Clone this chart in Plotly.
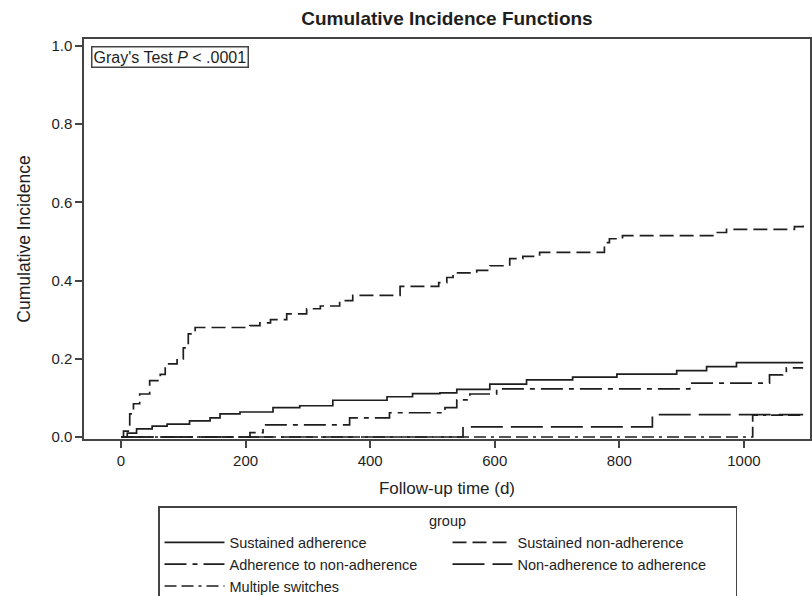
import plotly.graph_objects as go

# ---- data ----
sa_t = [0, 10, 25, 50, 74, 110, 143, 159, 191, 244, 287, 340, 427, 468, 512, 539, 592, 651, 725, 796, 892, 940, 988, 1095]
sa_y = [0, 0.010, 0.021, 0.028, 0.033, 0.041, 0.049, 0.059, 0.064, 0.075, 0.080, 0.094, 0.103, 0.111, 0.113, 0.122, 0.135, 0.146, 0.153, 0.161, 0.170, 0.180, 0.190, 0.190]

sna_t = [0, 4, 14, 20, 30, 46, 63, 71, 90, 100, 108, 119, 207, 223, 240, 266, 298, 320, 351, 372, 448, 510, 523, 533, 571, 592, 624, 645, 672, 776, 784, 805, 950, 972, 1081, 1095]
sna_y = [0, 0.015, 0.059, 0.085, 0.110, 0.144, 0.160, 0.187, 0.200, 0.228, 0.264, 0.280, 0.285, 0.292, 0.300, 0.315, 0.328, 0.335, 0.349, 0.362, 0.385, 0.395, 0.408, 0.420, 0.426, 0.438, 0.456, 0.462, 0.472, 0.497, 0.507, 0.515, 0.523, 0.531, 0.538, 0.541]

ana_t = [0, 207, 228, 367, 431, 520, 539, 560, 603, 913, 1041, 1062, 1068, 1095]
ana_y = [0, 0.011, 0.031, 0.049, 0.062, 0.075, 0.095, 0.110, 0.123, 0.138, 0.159, 0.164, 0.177, 0.177]

nta_t = [0, 549, 853, 1095]
nta_y = [0, 0.026, 0.057, 0.057]

ms_t = [0, 1014, 1095]
ms_y = [0, 0.056, 0.056]

x_ticks = [0, 200, 400, 600, 800, 1000]
y_ticks = [0.0, 0.2, 0.4, 0.6, 0.8, 1.0]
y_tick_labels = ["0.0", "0.2", "0.4", "0.6", "0.8", "1.0"]

series = [
    ("Sustained adherence", sa_t, sa_y, "solid"),
    ("Sustained non-adherence", sna_t, sna_y, "14px,6px"),
    ("Adherence to non-adherence", ana_t, ana_y, "22px,6px,5px,6px"),
    ("Non-adherence to adherence", nta_t, nta_y, "32px,8px"),
    ("Multiple switches", ms_t, ms_y, "12px,5px,12px,5px,3px,5px"),
]

FONT = "Liberation Sans, Arial, sans-serif"
INK = "#1e1e1e"

fig = go.Figure()
for name, t, y, dash in series:
    fig.add_trace(go.Scatter(
        x=t, y=y, mode="lines", name=name,
        line=dict(color=INK, width=1.7, dash=dash, shape="hv"),
    ))

fig.update_layout(
    width=812, height=596,
    margin=dict(l=84, r=2, t=39, b=157, autoexpand=False),
    paper_bgcolor="white", plot_bgcolor="white",
    font=dict(family=FONT, color=INK, size=15),
    title=dict(text="<b>Cumulative Incidence Functions</b>", x=0.5, xref="paper",
               y=1 - 18 / 596, yref="container", yanchor="middle",
               font=dict(size=19, family=FONT, color=INK)),
    showlegend=True,
    legend=dict(
        orientation="h",
        x=(158 - 84) / 726, xanchor="left",
        yref="container", y=1 - 506 / 596, yanchor="top",
        bordercolor="#444", borderwidth=1.5,
        entrywidth=213, entrywidthmode="pixels",
        itemwidth=60,
        font=dict(size=14.5, family=FONT, color=INK),
        title=dict(text="group", side="top center", font=dict(size=14.5, family=FONT, color=INK)),
        tracegroupgap=0,
    ),
    xaxis=dict(
        range=[-59.4, 1106], tickvals=x_ticks, ticks="outside", ticklen=7, tickwidth=1.5,
        tickcolor="#444", showline=True, linecolor="#444", linewidth=1.5, mirror=True,
        showgrid=False, zeroline=False, tickfont=dict(size=15),
        title=dict(text="Follow-up time (d)", font=dict(size=17), standoff=14),
    ),
    yaxis=dict(
        range=[-0.0051, 1.0179], tickvals=y_ticks, ticktext=y_tick_labels, ticks="outside",
        ticklen=7, tickwidth=1.5, tickcolor="#444", showline=True, linecolor="#444",
        linewidth=1.5, mirror=True, showgrid=False, zeroline=False, tickfont=dict(size=15),
        title=dict(text="Cumulative Incidence", font=dict(size=17.5), standoff=16),
    ),
)

fig.add_annotation(
    text="Gray's Test <i>P</i> < .0001",
    xref="paper", yref="paper",
    x=(91 - 84) / 726, y=(439 - 46) / 400, xanchor="left", yanchor="top",
    showarrow=False, bordercolor="#444", borderwidth=1.5, borderpad=1,
    font=dict(size=16, family=FONT, color=INK), align="left",
)

fig.write_html("out.html", config={"displayModeBar": False},
               post_script="document.body.style.margin='0px';")
